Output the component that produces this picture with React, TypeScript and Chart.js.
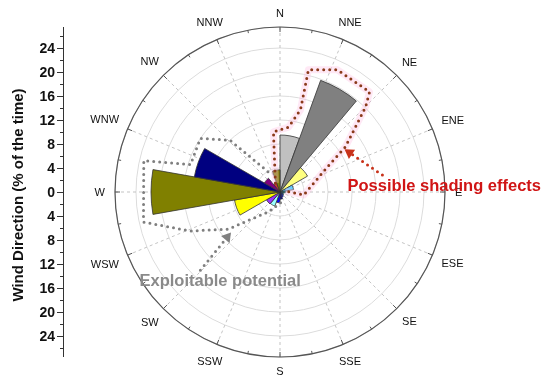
import { useEffect, useRef } from 'react';
import { Chart, registerables } from 'chart.js';

Chart.register(...registerables);

// ---- data ----
const binLabels = ['0-20', '20-40', '40-60', '60-80', '80-100', '100-120', '120-140', '140-160', '160-180',
  '180-200', '200-220', '220-240', '240-260', '260-280', '280-300', '300-320', '320-340', '340-360'];
const binValues = [9.5, 19.8, 5.3, 2.3, 0.9, 0.6, 0.7, 0.9, 1.2, 1.8, 2.5, 2.6, 7.7, 21.5, 14.5, 3.0, 1.6, 3.7];
const binColors = ['#c0c0c0', '#808080', '#ffff80', '#66ccff', '#33cccc', '#00ffff', '#0080ff', '#0000ff', '#0000a0',
  '#0000ff', '#99ffff', '#9933ff', '#ffff00', '#808000', '#000080', '#800080', '#cc3333', '#808000'];
const compassLabels = ['N', 'NNE', 'NE', 'ENE', 'E', 'ESE', 'SE', 'SSE', 'S', 'SSW', 'SW', 'WSW', 'W', 'WNW', 'NW', 'NNW'];
const axisMajorTicks = [-24, -20, -16, -12, -8, -4, 0, 4, 8, 12, 16, 20, 24];
const axisMinorTicks = [-26, -22, -18, -14, -10, -6, -2, 2, 6, 10, 14, 18, 22, 26];
const rMax = 27.5;
const gridStep = 4;
const axisTitle = 'Wind Direction (% of the time)';
// annotation outlines as [degrees clockwise from N, value]
const exploitableOutline: [number, number][] = [
  [177, 1.8], [210, 3.8], [234.3, 10.6], [246.5, 16.3], [257.6, 23.3], [283, 23.3], [287, 15.6], [304, 16], [316, 12], [330, 3.8],
];
const shadingOutline: [number, number][] = [
  [333, 1.7], [353.8, 10.1], [7.4, 10.9], [14, 14.1], [13.1, 20.9], [25.2, 22.5], [41.8, 22.4], [45.2, 20.1], [55.5, 13.2], [62.2, 8.9], [97, 4], [80, 0.9],
];
const shadingArrow: [number, number][] = [[80.6, 17.3], [56.5, 12.9]];
const exploitableArrow: [number, number][] = [[225.5, 18.6], [230.4, 10.6]];
const shadingText = { text: 'Possible shading effects', at: [84.9, 11.3] as [number, number] };
const exploitableText = { text: 'Exploitable potential', at: [237.4, 27.8] as [number, number] };

const FONT = '"Liberation Sans", Arial, sans-serif';

function polarToXY(scale: any, deg: number, value: number) {
  const d = scale.getDistanceFromCenterForValue(value);
  const a = (deg * Math.PI) / 180 - Math.PI / 2;
  return { x: scale.xCenter + Math.cos(a) * d, y: scale.yCenter + Math.sin(a) * d };
}

function dottedPath(ctx: CanvasRenderingContext2D, scale: any, pts: [number, number][], color: string, halo?: string) {
  const xy = pts.map(([a, v]) => polarToXY(scale, a, v));
  if (halo) {
    ctx.save();
    ctx.strokeStyle = halo;
    ctx.lineWidth = 7;
    ctx.lineJoin = 'round';
    ctx.beginPath();
    xy.forEach((p, i) => (i ? ctx.lineTo(p.x, p.y) : ctx.moveTo(p.x, p.y)));
    ctx.stroke();
    ctx.restore();
  }
  ctx.save();
  ctx.strokeStyle = color;
  ctx.lineWidth = 3;
  ctx.lineCap = 'round';
  ctx.setLineDash([0, 6]);
  ctx.beginPath();
  xy.forEach((p, i) => (i ? ctx.lineTo(p.x, p.y) : ctx.moveTo(p.x, p.y)));
  ctx.stroke();
  ctx.restore();
}

function arrow(ctx: CanvasRenderingContext2D, scale: any, pts: [number, number][], color: string) {
  const t = polarToXY(scale, pts[0][0], pts[0][1]);
  const h = polarToXY(scale, pts[1][0], pts[1][1]);
  const dx = h.x - t.x, dy = h.y - t.y;
  const len = Math.hypot(dx, dy);
  const ux = dx / len, uy = dy / len;
  const bx = h.x - ux * 9, by = h.y - uy * 9;
  ctx.save();
  ctx.strokeStyle = color;
  ctx.lineWidth = 3;
  ctx.lineCap = 'round';
  ctx.setLineDash([0, 6]);
  ctx.beginPath();
  ctx.moveTo(t.x, t.y);
  ctx.lineTo(bx, by);
  ctx.stroke();
  ctx.setLineDash([]);
  ctx.fillStyle = color;
  ctx.beginPath();
  ctx.moveTo(h.x, h.y);
  ctx.lineTo(bx - uy * 5.5, by + ux * 5.5);
  ctx.lineTo(bx + uy * 5.5, by - ux * 5.5);
  ctx.closePath();
  ctx.fill();
  ctx.restore();
}

const windRosePlugin = {
  id: 'windRoseDecor',
  beforeDatasetsDraw(chart: any) {
    const ctx = chart.ctx as CanvasRenderingContext2D;
    const s = chart.scales.r;
    const R = s.getDistanceFromCenterForValue(rMax);
    ctx.save();
    ctx.strokeStyle = '#c4c4c4';
    ctx.lineWidth = 1;
    ctx.setLineDash([3, 3]);
    for (let i = 0; i < 16; i++) {
      const a = (i * 22.5 * Math.PI) / 180 - Math.PI / 2;
      ctx.beginPath();
      ctx.moveTo(s.xCenter, s.yCenter);
      ctx.lineTo(s.xCenter + Math.cos(a) * R, s.yCenter + Math.sin(a) * R);
      ctx.stroke();
    }
    ctx.restore();
  },
  afterDatasetsDraw(chart: any) {
    const ctx = chart.ctx as CanvasRenderingContext2D;
    const s = chart.scales.r;
    const R = s.getDistanceFromCenterForValue(rMax);
    const cx = s.xCenter, cy = s.yCenter;

    // outer circle with ticks
    ctx.save();
    ctx.strokeStyle = '#555';
    ctx.lineWidth = 1.2;
    ctx.beginPath();
    ctx.arc(cx, cy, R, 0, Math.PI * 2);
    ctx.stroke();
    ctx.lineWidth = 1;
    for (let i = 0; i < 32; i++) {
      const a = (i * 11.25 * Math.PI) / 180 - Math.PI / 2;
      const l = i % 2 === 0 ? 5 : 3;
      ctx.beginPath();
      ctx.moveTo(cx + Math.cos(a) * R, cy + Math.sin(a) * R);
      ctx.lineTo(cx + Math.cos(a) * (R - l), cy + Math.sin(a) * (R - l));
      ctx.stroke();
    }
    ctx.restore();

    // compass labels
    ctx.save();
    ctx.font = `11px ${FONT}`;
    ctx.fillStyle = '#111';
    ctx.textAlign = 'center';
    ctx.textBaseline = 'middle';
    compassLabels.forEach((lab, i) => {
      const deg = i * 22.5;
      const a = (deg * Math.PI) / 180 - Math.PI / 2;
      const hw = ctx.measureText(lab).width / 2;
      const hh = 4;
      const d = R + 10 + hw * Math.abs(Math.cos(a)) + hh * Math.abs(Math.sin(a));
      ctx.fillText(lab, cx + Math.cos(a) * d, cy + Math.sin(a) * d + 0.5);
    });
    ctx.restore();

    // left axis
    const ax = cx - R - 52;
    ctx.save();
    ctx.strokeStyle = '#333';
    ctx.lineWidth = 1;
    ctx.beginPath();
    ctx.moveTo(ax + 0.5, cy - R);
    ctx.lineTo(ax + 0.5, cy + R);
    ctx.stroke();
    ctx.font = `bold 14px ${FONT}`;
    ctx.fillStyle = '#111';
    ctx.textAlign = 'right';
    ctx.textBaseline = 'middle';
    axisMajorTicks.forEach((v) => {
      const y = Math.round(cy - Math.sign(v) * s.getDistanceFromCenterForValue(Math.abs(v))) + 0.5;
      ctx.beginPath();
      ctx.moveTo(ax - 6, y);
      ctx.lineTo(ax + 0.5, y);
      ctx.stroke();
      ctx.fillText(String(Math.abs(v)), ax - 8, y + 1);
    });
    axisMinorTicks.forEach((v) => {
      const y = Math.round(cy - Math.sign(v) * s.getDistanceFromCenterForValue(Math.abs(v))) + 0.5;
      ctx.beginPath();
      ctx.moveTo(ax - 3, y);
      ctx.lineTo(ax + 0.5, y);
      ctx.stroke();
    });
    ctx.translate(19, cy + 3);
    ctx.rotate(-Math.PI / 2);
    ctx.font = `bold 15px ${FONT}`;
    ctx.textAlign = 'center';
    ctx.fillText(axisTitle, 0, 0);
    ctx.restore();

    // annotations
    dottedPath(ctx, s, exploitableOutline, '#7f7f7f');
    dottedPath(ctx, s, shadingOutline, '#8b3a1a', 'rgba(255,190,225,0.35)');
    arrow(ctx, s, shadingArrow, '#c8321a');
    arrow(ctx, s, exploitableArrow, '#808080');

    ctx.save();
    ctx.font = `bold 16.5px ${FONT}`;
    ctx.textAlign = 'left';
    ctx.textBaseline = 'middle';
    let p = polarToXY(s, shadingText.at[0], shadingText.at[1]);
    ctx.fillStyle = '#d01515';
    ctx.fillText(shadingText.text, p.x, p.y);
    p = polarToXY(s, exploitableText.at[0], exploitableText.at[1]);
    ctx.fillStyle = '#8a8a8a';
    ctx.fillText(exploitableText.text, p.x, p.y);
    ctx.restore();
  },
};

export default function App() {
  const ref = useRef<HTMLCanvasElement>(null);
  useEffect(() => {
    if (!ref.current) return;
    const chart = new Chart(ref.current, {
      type: 'polarArea',
      data: {
        labels: binLabels,
        datasets: [
          {
            data: binValues,
            backgroundColor: binColors,
            borderColor: '#333',
            borderWidth: 0.8,
          },
        ],
      },
      options: {
        responsive: false,
        animation: false,
        layout: { padding: { left: 115, right: 105, top: 27, bottom: 25 } },
        plugins: { legend: { display: false }, tooltip: { enabled: false } },
        scales: {
          r: {
            min: 0,
            max: rMax,
            ticks: { display: false, stepSize: gridStep },
            grid: { color: '#dcdcdc', lineWidth: 1, circular: true },
            angleLines: { display: false },
            pointLabels: { display: false },
          },
        },
      },
      plugins: [windRosePlugin],
    } as any);
    return () => chart.destroy();
  }, []);
  return (
    <div style={{ position: 'fixed', left: 0, top: 0, width: 550, height: 382, background: '#fff' }}>
      <canvas ref={ref} width={550} height={382} />
    </div>
  );
}
